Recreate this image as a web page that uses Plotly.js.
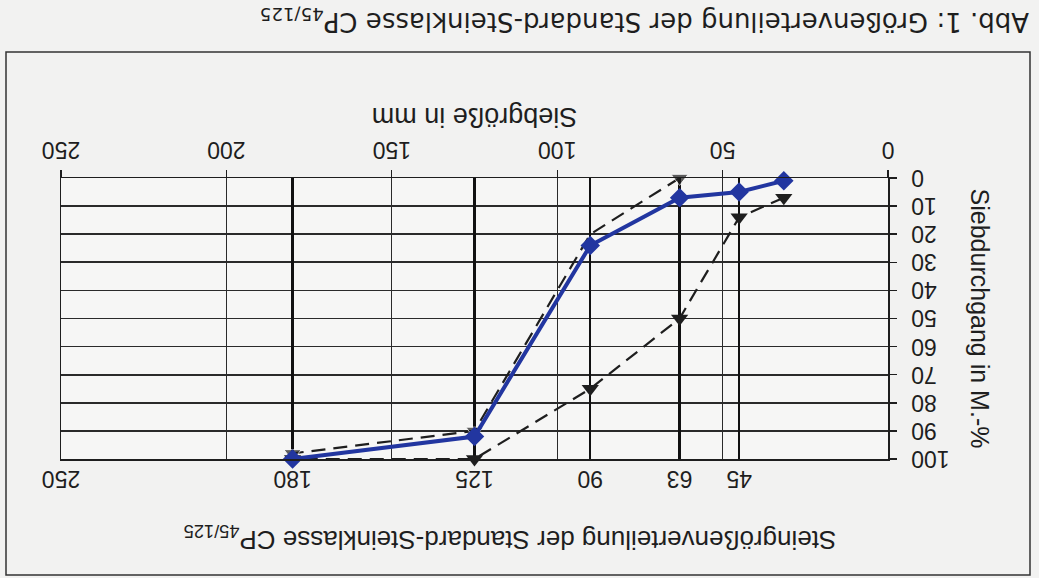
<!DOCTYPE html>
<html>
<head>
<meta charset="utf-8">
<script src="https://cdn.plot.ly/plotly-3.0.1.min.js"></script>
<style>
  html, body { margin: 0; padding: 0; background: #f2f2f1; overflow: hidden; }
  #chart { width: 1039px; height: 578px; transform: rotate(180deg); transform-origin: 50% 50%; }
</style>
</head>
<body>
<div id="chart"></div>
<script>
// ---- data ----
const sieveSizes        = [31.5, 45, 63, 90, 125, 180];          // mm
const passingMeasured   = [1, 5, 7, 24, 92, 100];                 // M.-%
const upperLimitSizes   = [31.5, 45, 63, 90, 125, 180];
const upperLimitValues  = [7, 14, 50, 75, 100, 100];
const lowerLimitSizes   = [63, 90, 125, 180];
const lowerLimitValues  = [0, 20, 90, 98];
const xTickVals         = [0, 50, 100, 150, 200, 250];
const sieveTickVals     = [45, 63, 90, 125, 180, 250];
const sieveTickText     = ['45', '63', '90', '125', '180', '250'];
const yTickVals         = [0, 10, 20, 30, 40, 50, 60, 70, 80, 90, 100];

const chartTitle = 'Steingrößenverteilung der Standard-Steinklasse CP<sub>45/125</sub>';
const xTitle = 'Siebgröße in mm';
const yTitle = 'Siebdurchgang in M.-%';
const caption = 'Abb. 1: Größenverteilung der Standard-Steinklasse CP<sub>45/125</sub>';

// ---- styles ----
const FONT = '"Liberation Sans", Arial, Helvetica, sans-serif';
const CAPFONT = '"DejaVu Sans", Verdana, sans-serif';
const INK = '#1e1e1e';
const BLUE = '#2236a0';

const traces = [
  {
    x: sieveSizes, y: passingMeasured, xaxis: 'x2', yaxis: 'y',
    mode: 'lines+markers', name: 'Ist',
    line: {color: BLUE, width: 4},
    marker: {symbol: 'diamond', size: 15, color: BLUE},
    showlegend: false, cliponaxis: false
  },
  {
    x: upperLimitSizes, y: upperLimitValues, xaxis: 'x', yaxis: 'y',
    mode: 'lines+markers', name: 'Obergrenze',
    line: {color: INK, width: 2.2, dash: '14px,8px'},
    marker: {symbol: 'triangle-up', size: 15, color: INK},
    showlegend: false, cliponaxis: false
  },
  {
    x: lowerLimitSizes, y: lowerLimitValues, xaxis: 'x', yaxis: 'y',
    mode: 'lines+markers', name: 'Untergrenze',
    line: {color: INK, width: 2.2, dash: '14px,8px'},
    marker: {symbol: 'triangle-up', size: [15, 0, 15, 15], color: INK},
    showlegend: false, cliponaxis: false
  }
];

const L = 151, R = 61, T = 119, B = 178;
const PW = 1039 - L - R, PH = 578 - T - B;
const px = v => (v - L) / PW;          // pixel x -> paper x
const py = v => (578 - B - v) / PH;    // pixel y -> paper y

const layout = {
  width: 1039, height: 578,
  margin: {l: L, r: R, t: T, b: B, pad: 0},
  paper_bgcolor: '#f2f2f1',
  plot_bgcolor: '#f6f6f5',
  font: {family: FONT, color: INK, size: 23},
  showlegend: false,
  title: {
    text: chartTitle,
    font: {family: FONT, size: 26, color: INK},
    x: 529 / 1039, xanchor: 'center',
    y: 1 - 38 / 578, yanchor: 'middle'
  },
  xaxis: {
    range: [0, 250], tickvals: xTickVals, ticks: 'outside', ticklen: 7, tickwidth: 1.2, tickcolor: INK,
    showgrid: true, gridcolor: '#2a2a2a', gridwidth: 1.2,
    showline: true, linecolor: INK, linewidth: 1.5, mirror: true, zeroline: false,
    tickfont: {size: 23}, ticklabelstandoff: 0,
    title: {text: xTitle, font: {size: 27}, standoff: 11},
    fixedrange: true
  },
  xaxis2: {
    range: [0, 250], overlaying: 'x', side: 'top', anchor: 'y',
    tickvals: sieveTickVals, ticktext: sieveTickText, ticks: '',
    showgrid: true, gridcolor: '#111', gridwidth: 2.4,
    showline: false, zeroline: false,
    tickfont: {size: 23}, ticklabelstandoff: 6,
    fixedrange: true
  },
  yaxis: {
    range: [0, 100], tickvals: yTickVals, ticks: 'outside', ticklen: 7, tickwidth: 1.5, tickcolor: INK,
    showgrid: true, gridcolor: '#2a2a2a', gridwidth: 1.6,
    showline: true, linecolor: INK, linewidth: 1.5, mirror: true, zeroline: false,
    tickfont: {size: 23}, ticklabelstandoff: 10,
    title: {text: yTitle, font: {size: 25}, standoff: 14},
    fixedrange: true
  },
  shapes: [
    {type: 'rect', xref: 'paper', yref: 'paper',
     x0: px(9), x1: px(1033), y0: py(526), y1: py(3),
     line: {color: '#333', width: 1.5}, fillcolor: 'rgba(0,0,0,0)', layer: 'below'}
  ],
  annotations: [
    {text: caption, xref: 'paper', yref: 'paper', x: px(8), y: py(557),
     xanchor: 'left', yanchor: 'middle', showarrow: false,
     font: {family: CAPFONT, size: 26, color: INK}}
  ]
};

Plotly.newPlot('chart', traces, layout, {staticPlot: true, displayModeBar: false});
</script>
</body>
</html>
